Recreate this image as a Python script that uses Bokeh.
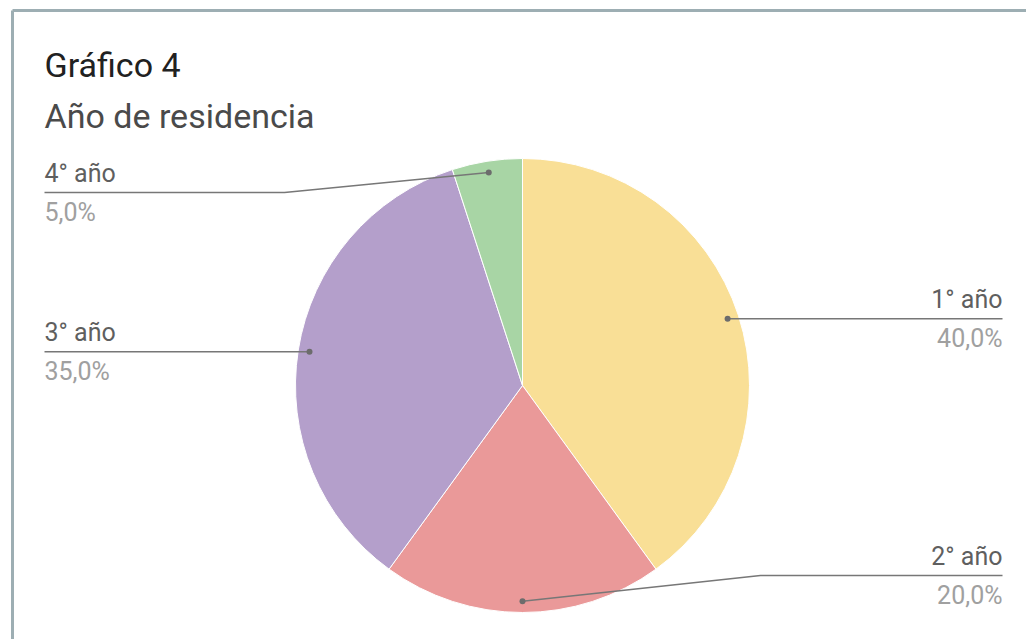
import numpy as np
from bokeh.plotting import figure
from bokeh.models import Range1d
from bokeh.core.properties import value
from bokeh.embed import file_html
from bokeh.resources import INLINE

# ---- data ----
categories = ["1° año", "2° año", "3° año", "4° año"]
percentages = [40.0, 20.0, 35.0, 5.0]
pct_labels = ["40,0%", "20,0%", "35,0%", "5,0%"]
colors = ["#F9DF96", "#EA9999", "#B49FCB", "#A8D5A5"]
title_text = "Gráfico 4"
subtitle_text = "Año de residencia"

# ---- layout ----
W, H = 1026, 639
cx, cy = 522, H - 385
R = 227
FONT = "Roboto"

p = figure(width=W, height=H, x_range=Range1d(0, W), y_range=Range1d(0, H),
           x_axis_type=None, y_axis_type=None, toolbar_location=None,
           output_backend="svg", min_border=0)
p.grid.visible = False
p.outline_line_color = None
p.background_fill_color = "white"
p.border_fill_color = "white"

# frame lines
p.line([12, W], [H - 10, H - 10], line_color="#9DAEB3", line_width=3)
p.line([12, 12], [H - 10, 0], line_color="#9DAEB3", line_width=3)

# pie
frac = np.array(percentages) / sum(percentages)
ends = np.cumsum(frac)
starts = ends - frac
start_angle = np.pi / 2 - 2 * np.pi * starts
end_angle = np.pi / 2 - 2 * np.pi * ends
p.wedge(x=cx, y=cy, radius=R, start_angle=start_angle, end_angle=end_angle,
        direction="clock", fill_color=colors, line_color="white", line_width=1)

# leader lines & labels
mid = np.pi / 2 - 2 * np.pi * (starts + frac / 2)
dot_x = cx + 0.95 * R * np.cos(mid)
dot_y = cy + 0.95 * R * np.sin(mid)
line_y = np.clip(dot_y, H - 575, H - 192)
right = np.cos(mid) >= -1e-9

xs, ys = [], []
for i in range(len(categories)):
    if right[i]:
        elbow, end = cx + 238, 1002
    else:
        elbow, end = cx - 238, 44
    xs.append([dot_x[i], elbow, end])
    ys.append([dot_y[i], line_y[i], line_y[i]])
p.multi_line(xs, ys, line_color="#777777", line_width=1.5)
p.scatter(dot_x, dot_y, size=6, fill_color="#6c6c6c", line_color=None)

for i in range(len(categories)):
    xe = 1002 if right[i] else 44
    align = "right" if right[i] else "left"
    p.text(x=[xe], y=[line_y[i] + 19.5], text=[categories[i]],
           text_font=value(FONT), text_font_size="25px", text_color="#5f5f5f",
           text_align=align, text_baseline="alphabetic")
    p.text(x=[xe], y=[line_y[i] - 19.5], text=[pct_labels[i]],
           text_font=value(FONT), text_font_size="25px", text_color="#a0a0a0",
           text_align=align, text_baseline="alphabetic")

# titles
p.text(x=[44], y=[H - 64.5], text=[title_text], text_font=value(FONT),
       text_font_size="34px", text_color="#212121", text_baseline="alphabetic")
p.text(x=[44], y=[H - 115.5], text=[subtitle_text], text_font=value(FONT),
       text_font_size="34px", text_color="#4a4a4a", text_baseline="alphabetic")

open("out.html", "w").write(file_html(p, INLINE))
